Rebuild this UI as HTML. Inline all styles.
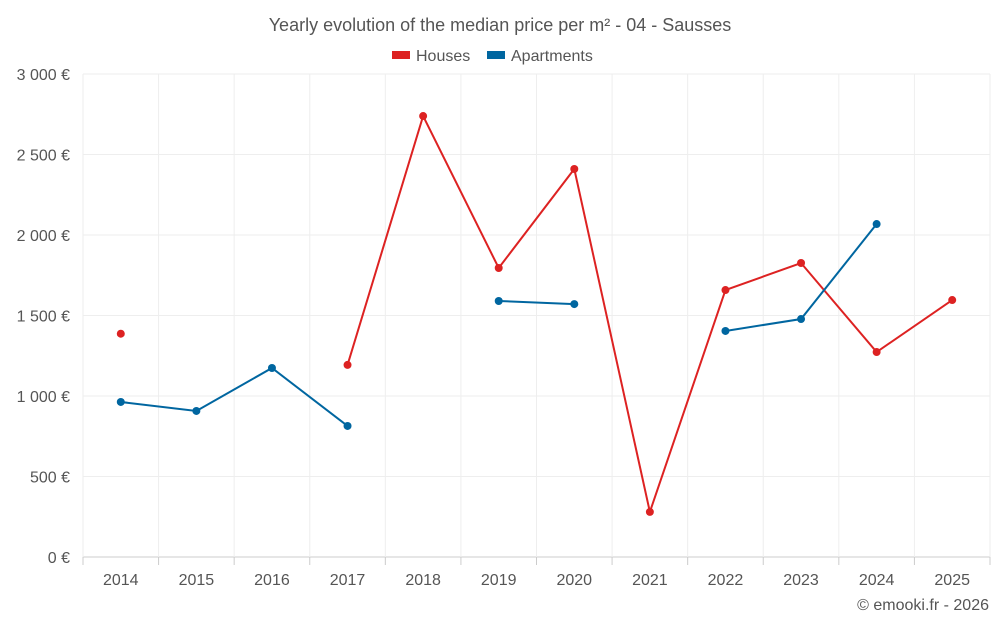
<!DOCTYPE html>
<html><head><meta charset="utf-8"><style>
body{margin:0;background:#fff;font-family:"Liberation Sans",sans-serif;}
svg text{font-family:"Liberation Sans",sans-serif;fill:#555;}
</style></head><body>
<svg id="chart" width="1000" height="625">
<text x="500" y="31" text-anchor="middle" font-size="18">Yearly evolution of the median price per m² - 04 - Sausses</text>
<g>
<rect x="392" y="51" width="18" height="8" fill="#dd2222"/>
<text x="416" y="61" font-size="16">Houses</text>
<rect x="487" y="51" width="18" height="8" fill="#0066a0"/>
<text x="511" y="61" font-size="16">Apartments</text>
</g>
<g id="grid"></g><g id="axes"></g><g id="series"></g>
<text x="989" y="610" text-anchor="end" font-size="16">© emooki.fr - 2026</text>
</svg>
<script>
const years=[2014,2015,2016,2017,2018,2019,2020,2021,2022,2023,2024,2025];
const houses=[1387,null,null,1193,2739,1795,2410,280,1658,1826,1273,1596];
const apartments=[963,907,1174,814,null,1590,1571,null,1404,1478,2068,null];
const yTicks=[0,500,1000,1500,2000,2500,3000];
const yLabels=["0 €","500 €","1 000 €","1 500 €","2 000 €","2 500 €","3 000 €"];
const L=83,R=990,T=74,B=557,yMax=3000;
const step=(R-L)/years.length;
const xs=i=>L+step*(i+0.5);
const ys=v=>B-(v/yMax)*(B-T);
const NS="http://www.w3.org/2000/svg";
function mk(tag,attrs,parent){const e=document.createElementNS(NS,tag);for(const k in attrs)e.setAttribute(k,attrs[k]);document.getElementById(parent).appendChild(e);return e;}
yTicks.forEach((t,i)=>{
 const l=mk('line',{x1:L,x2:R,y1:ys(t),y2:ys(t),stroke:i==0?'#ccc':'#eee'},'grid');
 
 
 const tx=mk('text',{x:70,y:ys(t)+6,'text-anchor':'end','font-size':16},'axes');
 tx.textContent=yLabels[i];
 
 
});
for(let i=0;i<=years.length;i++){
 const x=L+step*i;
 const l=mk('line',{x1:x,x2:x,y1:T,y2:B,stroke:'#eee'},'grid');
 
 
 const tk=mk('line',{x1:x,x2:x,y1:B,y2:B+8,stroke:'#ccc'},'axes');
 
 
}
years.forEach((y,i)=>{
 const tx=mk('text',{x:xs(i),y:585,'text-anchor':'middle','font-size':16},'axes');
 tx.textContent=y;
 
 
});
function draw(vals,color,name){
 let seg=[];
 const flush=()=>{if(seg.length>1){const p=mk('path',{d:'M'+seg.join('L'),fill:'none',stroke:color,'stroke-width':2},'series');
  
  }seg=[];};
 vals.forEach((v,i)=>{if(v==null){flush();return;}seg.push(xs(i)+','+ys(v));});
 flush();
 vals.forEach((v,i)=>{if(v==null)return;
  const c=mk('circle',{cx:xs(i),cy:ys(v),r:4,fill:color},'series');
  
  });
}
draw(houses,'#dd2222','houses');
draw(apartments,'#0066a0','apartments');
</script>
</body></html>
